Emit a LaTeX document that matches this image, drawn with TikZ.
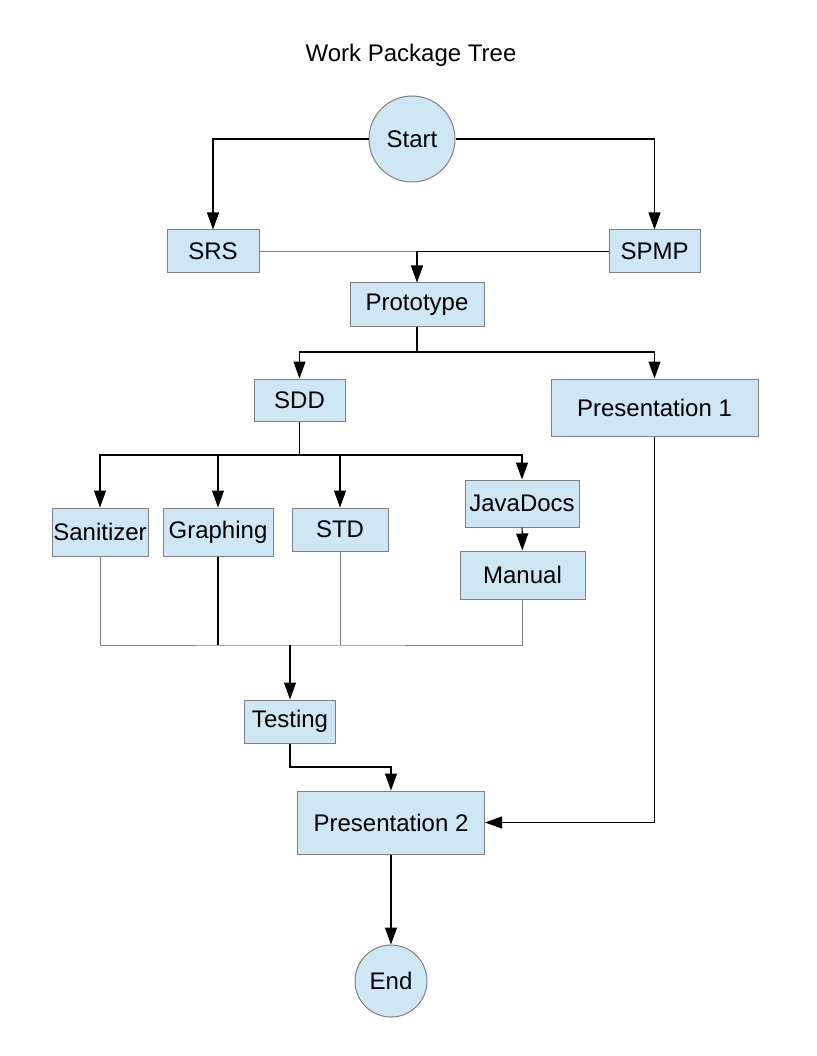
\documentclass[tikz,border=0pt]{standalone}
\usepackage{fontspec}
\setmainfont{Liberation Sans}
\usepackage{tikz}
\usetikzlibrary{arrows.meta,positioning}
\definecolor{boxblue}{RGB}{207,231,245}
\definecolor{edgegray}{RGB}{128,128,128}

\tikzset{
	wpbox/.style={draw=edgegray, fill=boxblue, line width=1pt, inner sep=0pt, font=\fontsize{24}{28}\selectfont},
	wpcircle/.style={wpbox, circle},
	flow/.style={line width=1.1pt, -{Triangle[length=17pt,width=12pt]}},
	grayline/.style={line width=1pt, draw=edgegray},
	blackline/.style={line width=1.1pt}
}

\begin{document}
\begin{tikzpicture}[x=1pt, y=-1pt]
	\useasboundingbox[fill=white] (0,0) rectangle (816,1056);

	% title
	\node[font=\fontsize{24}{28}\selectfont] (title) at (411,55) {Work Package Tree};

	% work packages
	\node[wpcircle, minimum size=86pt] (start) at (412,139) {Start};
	\node[wpbox, minimum width=92pt, minimum height=43pt] (srs) at (213,251.5) {SRS};
	\node[wpbox, minimum width=91pt, minimum height=43pt] (spmp) at (654.5,251.5) {SPMP};
	\node[wpbox, minimum width=134pt, minimum height=43pt] (proto) at (417,304.5) {Prototype};
	\node[wpbox, minimum width=91pt, minimum height=42pt] (sdd) at (299.5,400) {SDD};
	\node[wpbox, minimum width=207pt, minimum height=57pt] (pres1) at (654.5,407.5) {Presentation 1};
	\node[wpbox, minimum width=96pt, minimum height=48pt] (sanit) at (100,532) {Sanitizer};
	\node[wpbox, minimum width=110pt, minimum height=48pt] (graph) at (218,532) {Graphing};
	\node[wpbox, minimum width=96pt, minimum height=43pt] (std) at (340,529.5) {STD};
	\node[wpbox, minimum width=114pt, minimum height=47pt] (javadoc) at (522,503.5) {JavaDocs};
	\node[wpbox, minimum width=125pt, minimum height=48pt] (manual) at (522.5,575) {Manual};
	\node[wpbox, minimum width=91pt, minimum height=43pt] (testing) at (290,721.5) {Testing};
	\node[wpbox, minimum width=187pt, minimum height=63pt] (pres2) at (391,822.5) {Presentation 2};
	\node[wpcircle, minimum size=72pt] (end) at (391,981) {End};

	% junction points
	\coordinate (protojoin) at (417,251.5);
	\coordinate (protosplit) at (417,352);
	\coordinate (sddsplit) at (299.5,455);
	\coordinate (merge) at (290,645);
	\coordinate (testjoin) at (290,767);

	% start to SRS and SPMP
	\draw[flow] (start.west) -| (srs.north);
	\draw[flow] (start.east) -| (spmp.north);

	% into prototype
	\draw[grayline] (srs.east) -- (protojoin);
	\draw[flow] (spmp.west) -| (proto.north);

	% prototype split
	\draw[blackline] (proto.south) -- (protosplit);
	\draw[flow] (protosplit) -| (sdd.north);
	\draw[flow] (protosplit) -| (pres1.north);

	% SDD split
	\draw[blackline] (sdd.south) -- (sddsplit);
	\draw[flow] (sddsplit) -| (sanit.north);
	\draw[flow] (sddsplit -| graph.north) -- (graph.north);
	\draw[flow] (sddsplit -| std.north) -- (std.north);
	\draw[flow] (sddsplit) -| (javadoc.north);
	\draw[flow] (javadoc) -- (manual);

	% merge into testing
	\draw[grayline] (sanit.south) |- (merge) -| (manual.south);
	\draw[grayline] (std.south) -- (std.south |- merge);
	\draw[blackline] (graph.south) -- (graph.south |- merge);
	\draw[flow] (merge) -- (testing.north);

	% into presentation 2
	\draw[flow] (testing.south) -- (testjoin) -| (pres2.north);
	\draw[flow] (pres1.south) |- (pres2.east);
	\draw[flow] (pres2) -- (end);

\end{tikzpicture}
\end{document}
